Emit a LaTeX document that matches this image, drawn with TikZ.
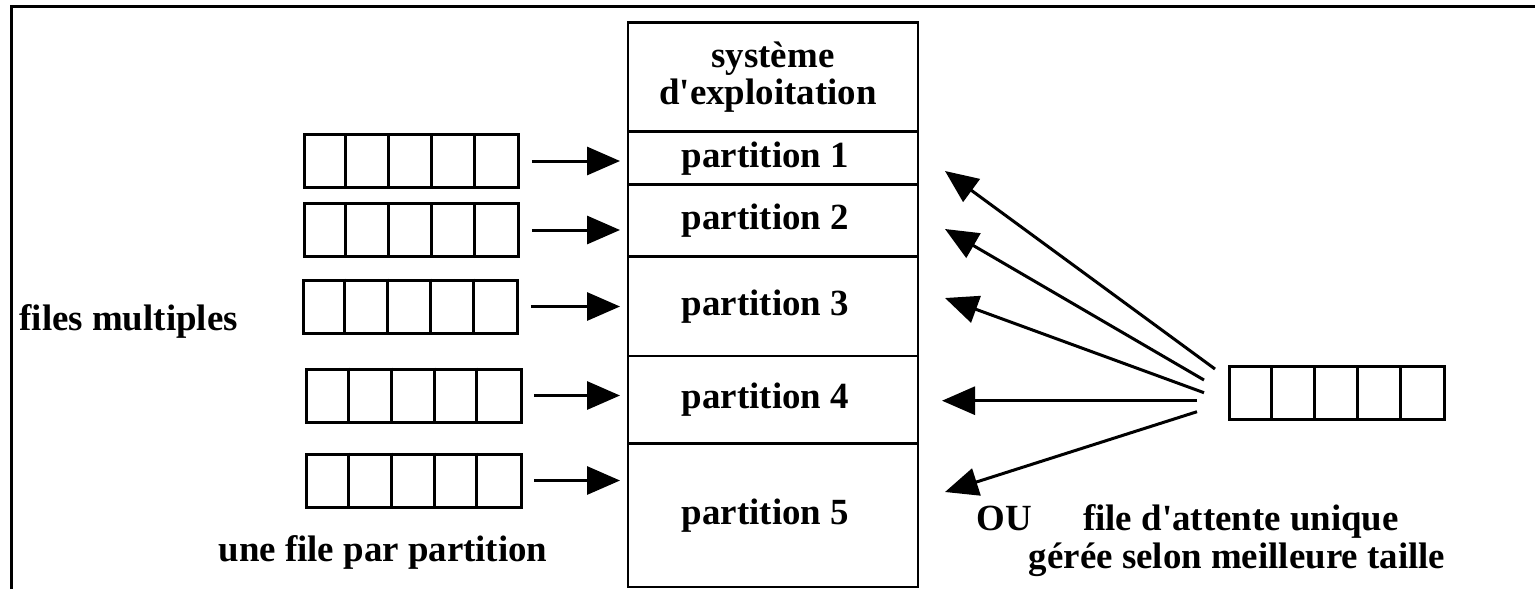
\documentclass[tikz,border=0pt]{standalone}
\usepackage{fontspec}
\setmainfont{Liberation Serif}[Ligatures=TeXOff]
\usetikzlibrary{arrows.meta,positioning}
\begin{document}
\begin{tikzpicture}[x=0.02cm, y=-0.02cm, line width=0.06cm,
  every node/.style={font=\fontsize{21pt}{21.5pt}\selectfont\bfseries, inner sep=0pt},
  part/.style={draw, minimum width=5.8cm, align=center, outer sep=0pt, line width=0.05cm},
  queue/.style={draw, minimum width=4.3cm, minimum height=1.06cm},
  arr/.style={-{Triangle[length=0.66cm, width=0.56cm]}}]
\useasboundingbox (0,0) rectangle (1535,589);
\draw (11.5,589) -- (11.5,6.5) -- (1535,6.5);
% memoire
\node[part, minimum height=2.18cm] (os) at (773,77.2) {système\\d'exploitation\hspace*{0.2cm}};
\node[part, minimum height=1.06cm, below=0pt of os] (p1) {partition 1\hspace*{0.3cm}};
\node[part, minimum height=1.44cm, below=0pt of p1] (p2) {partition 2\hspace*{0.3cm}};
\node[part, minimum height=1.99cm, below=0pt of p2] (p3) {partition 3\hspace*{0.3cm}};
\node[part, minimum height=1.75cm, below=0pt of p3] (p4) {partition 4\hspace*{0.3cm}};
\node[part, minimum height=2.87cm, below=0pt of p4] (p5) {partition 5\hspace*{0.3cm}};
% files multiples
\foreach \i/\x/\y in {1/411.5/161, 2/411.5/230, 3/410.5/306.5, 4/414/395.5, 5/414/480.5} {
  \node[queue] (q\i) at (\x,\y) {};
  \foreach \k in {1,...,4}
    \draw ([xshift=\k*0.86cm]q\i.north west) -- ([xshift=\k*0.86cm]q\i.south west);
  \draw[arr, shorten <=0.23cm, shorten >=0.16cm] (q\i.east) -- (q\i.east -| p\i.west);
}
% file unique
\node[queue] (uq) at (1337,393) {};
\foreach \k in {1,...,4}
  \draw ([xshift=\k*0.86cm]uq.north west) -- ([xshift=\k*0.86cm]uq.south west);
\foreach \i/\sx/\sy/\tx/\ty in {1/1215/369/945/171, 2/1204/380/945/229, 3/1204/392.7/945/298,
    4/1197/400.7/942/400.7, 5/1197/411.7/945/492} {
  \coordinate (s\i) at (\sx,\sy);
  \coordinate (t\i) at (\tx,\ty);
  \draw[arr] (s\i) -- (t\i);
}
\node[anchor=base west] (fm) at (18,330) {files multiples};
\node[anchor=base west] (ufp) at (217,561) {une file par partition};
\node[anchor=base west] (ou) at (975,530) {OU};
\node[anchor=base] (fau) at (1241,530) {file d'attente unique};
\node[anchor=base] (gst) at (1237,568) {gérée selon meilleure taille};
\end{tikzpicture}
\end{document}
